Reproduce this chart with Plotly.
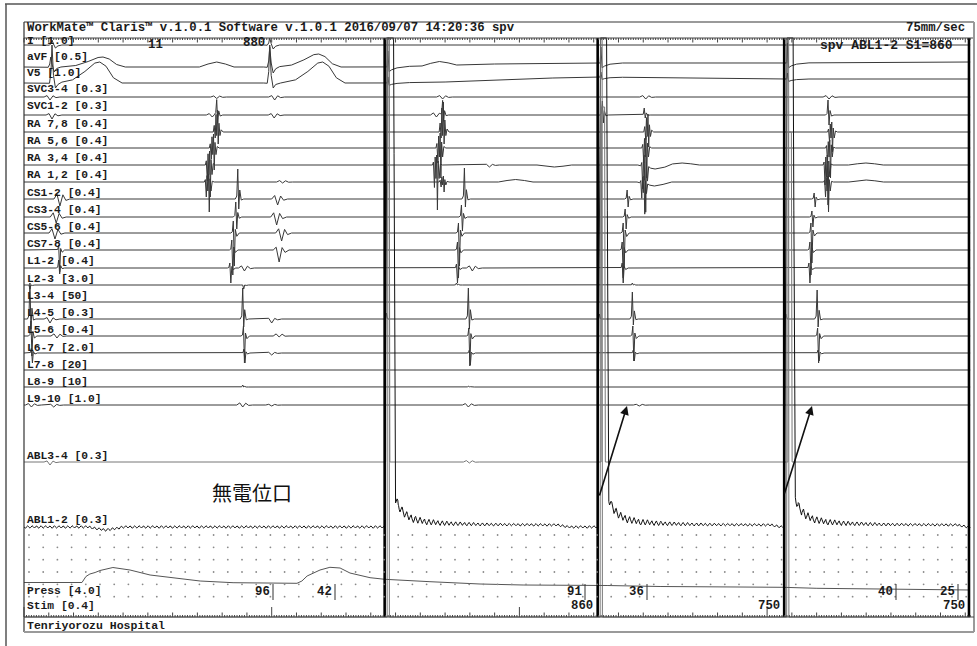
import numpy as np
import plotly.graph_objects as go

# ---------------- values read from the recording ----------------
PX_PER_MS = 0.2477          # 75 mm/sec paper speed on screen
T_END = 3820

ch_names = ["I", "aVF", "V5", "SVC3-4", "SVC1-2", "RA 7,8", "RA 5,6", "RA 3,4", "RA 1,2",
            "CS1-2", "CS3-4", "CS5-6", "CS7-8", "L1-2", "L2-3", "L3-4", "L4-5", "L5-6",
            "L6-7", "L7-8", "L8-9", "L9-10", "ABL3-4", "ABL1-2", "Press", "Stim"]
ch_gains = ["1.0", "0.5", "1.0", "0.3", "0.3", "0.4", "0.4", "0.4", "0.4", "0.4", "0.4", "0.4",
            "0.4", "0.4", "3.0", "50", "0.3", "0.4", "2.0", "20", "10", "1.0", "0.3", "0.3",
            "4.0", "0.4"]

stim_times = [1456, 2316, 3069, 3815]
stim_cl = ["", "860", "750", "750"]
sinus_qrs = [113, 992]
sinus_cl_label = "880"

# waveform templates: (time offsets ms, normalised deflection)
tpl_sharp = ([-10, -4, 0, 4, 8, 14, 24], [0, 0.1, 1, -1, 0.3, -0.1, 0])
tpl_frac = ([-14, -10, -6, -3, 0, 3, 6, 9, 13, 18, 26], [0, 0.3, -0.5, 0.8, -0.3, 1.0, -1.0, 0.4, -0.3, 0.1, 0])
tpl_far = ([-24, -12, 0, 12, 24, 40], [0, 0.7, -1, 0.6, -0.2, 0])
tpl_hump = ([-70, -35, 0, 35, 70], [0, 0.6, 1, 0.6, 0])
tpl_qrs = ([-24, -10, -4, 0, 6, 14, 24, 40], [0, -0.05, 0.3, 1.0, 0.2, -1.0, -0.3, 0])
tpl_twave = ([-170, -110, -60, -20, 0, 25, 55, 90], [0, 0.15, 0.55, 0.95, 1, 0.8, 0.25, 0])
tpl_art = ([0, 3, 8, 18, 40, 90], [0, 1, -0.8, -0.5, -0.2, 0])
tpl_bigart = ([0, 2, 14, 17, 30], [0, 1, 1, -0.03, 0])
tpl_stim = ([0, 1, 8, 9], [0, 1, 1, 0])
tpl_abl = ([0, 10, 36, 44, 55, 70, 90, 120, 170, 250, 400, 700, 740],
           [0, 489, 489, 28, 22, 16, 11, 7.5, 5, 3.5, 2.5, 2, 0])
TPL = {"sharp": tpl_sharp, "frac": tpl_frac, "far": tpl_far, "hump": tpl_hump, "qrs": tpl_qrs,
       "twave": tpl_twave, "art": tpl_art, "bigart": tpl_bigart, "stim": tpl_stim, "abl": tpl_abl}

# events per channel: (time ms, template, upward px, downward px)
ev_I = [(113, "qrs", 5, 3), (992, "qrs", 7, 4)]
ev_aVF = [(108, "qrs", 10, 5), (319, "twave", 10, 0), (778, "hump", 5, 0), (992, "qrs", 20, 6),
          (1190, "twave", 13, 0), (1677, "hump", 4, 0), (1466, "art", 16, 6),
          (2326, "art", 16, 6), (3079, "art", 20, 6)]
ev_V5 = [(113, "qrs", 38, 5), (306, "twave", 21, 0), (992, "qrs", 38, 5), (1206, "twave", 21, 0),
         (1466, "art", 6, 3), (2326, "art", 5, 3), (3079, "art", 6, 3)]
ev_SVC34 = [(105, "far", 2, 3), (778, "far", 1.5, 1.5), (1012, "far", 2, 3), (1690, "far", 2, 2),
            (2510, "far", 2, 2), (3250, "far", 2, 2)]
ev_SVC12 = [(113, "far", 2, 4), (760, "far", 2, 2), (778, "sharp", 15, 8), (1010, "far", 2, 3),
            (1665, "far", 3, 2), (1690, "sharp", 15, 6), (2335, "sharp", 14, 8),
            (2504, "sharp", 7, 3), (3246, "sharp", 15, 10)]
ev_RA78 = [(778, "frac", 22, 12), (1690, "frac", 30, 12), (2516, "frac", 18, 15), (3258, "frac", 10, 20)]
ev_RA56 = [(762, "frac", 14, 22), (1677, "frac", 15, 30), (2508, "frac", 12, 30), (3250, "frac", 8, 30)]
ev_RA34 = [(746, "frac", 14, 32), (1663, "frac", 10, 45), (1879, "far", 1, 2), (2141, "hump", -2, 0),
           (2504, "frac", 12, 45), (2548, "hump", -4, 0), (2657, "hump", 2, 0),
           (3240, "frac", 10, 40), (3399, "hump", 2, 0)]
ev_RA12 = [(742, "frac", 8, 30), (1044, "far", 2, 1), (1690, "frac", 6, 10), (1985, "hump", 2.5, 0),
           (2500, "frac", 8, 30), (2545, "hump", -4, 0), (3242, "frac", 6, 30), (3400, "hump", 2, 0)]
ev_CS12 = [(145, "far", 7, 7), (863, "sharp", 30, 10), (1024, "far", 5, 6), (1778, "sharp", 31, 8),
           (2435, "sharp", 9, 8), (3190, "sharp", 6, 8)]
ev_CS34 = [(130, "far", 6, 6), (855, "sharp", 15, 12), (1020, "far", 6, 8), (1766, "sharp", 12, 14),
           (2427, "sharp", 8, 12), (3181, "sharp", 6, 10)]
ev_CS56 = [(125, "far", 6, 6), (845, "sharp", 12, 33), (1040, "far", 6, 8), (1754, "sharp", 10, 33),
           (2419, "sharp", 10, 35), (3177, "sharp", 10, 30)]
ev_CS78 = [(140, "sharp", 5, 22), (839, "sharp", 10, 25), (1030, "far", 4, 12), (1750, "sharp", 8, 28),
           (2415, "sharp", 8, 28), (3173, "sharp", 8, 25)]
ev_L12 = [(140, "sharp", 8, 6), (831, "sharp", 5, 15), (890, "far", 3, 3), (1746, "sharp", 4, 15),
          (1810, "far", 3, 3), (2415, "sharp", 5, 15), (3169, "sharp", 5, 15)]
ev_L23 = [(20, "sharp", 0, 4), (883, "sharp", 0, 4), (1746, "sharp", 2, 0), (2456, "sharp", 2, 0)]
ev_L34 = []
ev_L45 = [(24, "sharp", 36, 10), (105, "far", 2, 4), (883, "sharp", 31, 8), (1000, "far", 1, 4),
          (1794, "sharp", 31, 10), (2456, "sharp", 27, 6), (3202, "sharp", 29, 8),
          (1460, "art", 6, 0), (2320, "art", 5, 0), (3073, "art", 5, 0)]
ev_L56 = [(28, "sharp", 15, 20), (133, "far", 3, 2), (886, "sharp", 10, 27), (1030, "far", 3, 1),
          (1796, "sharp", 8, 30), (2458, "sharp", 10, 25), (3204, "sharp", 8, 27)]
ev_L67 = [(30, "sharp", 5, 10), (888, "sharp", 4, 10), (1000, "far", 1, 2), (1798, "sharp", 3, 12),
          (2460, "sharp", 3, 8), (3206, "sharp", 3, 8)]
ev_L78 = []
ev_L89 = [(883, "sharp", 2, 0), (1794, "sharp", 1, 0)]
ev_L910 = [(30, "far", 2, 2), (120, "far", 1, 2), (883, "far", 3, 2), (1000, "far", 1, 1),
           (1794, "far", 2, 2), (2484, "far", 1, 1)]
ev_ABL34 = [(105, "far", 1.5, 3), (1798, "far", 2, 1), (1460, "bigart", 424, 0),
            (2330, "bigart", 355, 0), (3084, "bigart", 330, 0)]
ev_ABL12 = [(330, "hump", -3, 0), (1456, "abl", 1, 0), (2316, "abl", 1, 0), (3069, "abl", 1, 0)]
ev_Stim = [(1466, "stim", 579, 0), (2326, "stim", 579, 0), (3079, "stim", 579, 0), (3822, "stim", 579, 0)]

# slow baseline wander of the ECG leads (ms, upward px)
drift_aVF_t = [0, 1456, 1900, 2300, 3069, 3815]
drift_aVF_v = [0, 0, 3, 4, 4, 5]
drift_V5_t = [0, 1456, 1700, 2135, 2316, 3069, 3815]
drift_V5_v = [0, 0, 1, 5, 6, 4, 4]

# ablation-catheter ripple (px, one value every 3 ms)
abl_ripple = [0.0, 1.1, 1.5, 0.3, -1.0, -1.5, -0.4, 0.8, 1.4, 0.5, -0.8, -1.6, -0.7, 0.6, 1.2, 0.2, -1.1, -1.3]

# pressure trace (ms, screen px)
press_t = [0, 234, 250, 266, 287, 307, 359, 428, 509, 602, 711, 844, 953, 1102, 1122, 1143, 1195,
           1235, 1276, 1316, 1397, 1457, 1639, 1841, 2015, 2313, 2354, 2568, 2729, 3064, 3201, 3468, 3819]
press_y = [582.5, 582.5, 576.5, 574, 572.5, 570.5, 567.5, 570, 575, 578, 581, 582.7, 583, 583.3, 581,
           576, 570, 567.3, 568, 573, 577.7, 579.3, 581.7, 584, 585, 585.2, 585.5, 586.5, 586.7,
           587.3, 588.3, 589.3, 590]

# measurement read-outs on the pressure row
meas_vals = ["96", "42", "91", "36", "40", "25"]
meas_x_px = [273, 335, 585, 647, 896, 958]

# ---------------- layout (screen positions) ----------------
ch_base = [45, 67, 83, 97, 115, 132, 148, 165, 182, 199, 217, 233, 250, 268, 285, 302, 319, 336,
           353, 370, 387, 405, 462, 527, None, 617]
ch_label_y = [41, 57, 73, 89, 106, 124, 141, 158, 175, 193, 210, 227, 244, 261, 279, 296, 313, 330,
              348, 365, 382, 399, 456, 520, 591, 606]
ch_events = [ev_I, ev_aVF, ev_V5, ev_SVC34, ev_SVC12, ev_RA78, ev_RA56, ev_RA34, ev_RA12, ev_CS12,
             ev_CS34, ev_CS56, ev_CS78, ev_L12, ev_L23, ev_L34, ev_L45, ev_L56, ev_L67, ev_L78,
             ev_L89, ev_L910, ev_ABL34, ev_ABL12, None, ev_Stim]


def px2t(x):
    return (x - 24) / PX_PER_MS


def build(base, events, dense=None, drift=None):
    ts = [0, T_END]
    for (t, name, up, dn) in events:
        ts.extend(list(t + np.array(TPL[name][0], float)))
    if dense is not None:
        ts.extend(list(dense))
    if drift is not None:
        ts.extend(drift[0])
    ts = np.unique(np.clip(np.array(ts, float), 0, T_END))
    y = np.full(ts.shape, float(base))
    for (t, name, up, dn) in events:
        dt, v = TPL[name]
        v = np.array(v, float)
        sv = np.where(v > 0, v * up, v * dn)
        y -= np.interp(ts, t + np.array(dt, float), sv, left=0, right=0)
    if drift is not None:
        y -= np.interp(ts, drift[0], drift[1])
    return ts, y


fig = go.Figure()
LINE = "#383838"

for i, name in enumerate(ch_names):
    evs = ch_events[i]
    if evs is None:
        continue
    if name == "ABL1-2":
        grid = np.arange(0, T_END, 3.0)
        ts, y = build(ch_base[i], evs, dense=grid)
        rip = np.array(abl_ripple)[(np.round(ts / 3).astype(int)) % len(abl_ripple)]
        env = np.full(ts.shape, 0.8)
        for s in stim_times[:3]:
            env += np.interp(ts, [s + 40, s + 60, s + 150, s + 300, s + 500], [2.6, 2.0, 1.2, 0.4, 0],
                             left=0, right=0)
        inart = np.zeros(ts.shape, bool)
        for s in stim_times[:3]:
            inart |= (ts > s) & (ts < s + 42)
        y = np.where(inart, y, y + rip * env)
        fig.add_trace(go.Scatter(x=ts, y=y, mode="lines", line=dict(color="#111", width=1),
                                 hoverinfo="skip", showlegend=False))
        continue
    drift = None
    if name == "aVF":
        drift = (drift_aVF_t, drift_aVF_v)
    if name == "V5":
        drift = (drift_V5_t, drift_V5_v)
    ts, y = build(ch_base[i], evs, drift=drift)
    col = "#777" if name in ("Stim", "ABL3-4") else LINE
    fig.add_trace(go.Scatter(x=ts, y=y, mode="lines", line=dict(color=col, width=1),
                             hoverinfo="skip", showlegend=False))

# pressure
fig.add_trace(go.Scatter(x=press_t, y=press_y, mode="lines", line=dict(color="#555", width=1),
                         hoverinfo="skip", showlegend=False))

# pacing markers
mx, my = [], []
for s in stim_times:
    mx += [s, s, None]
    my += [38, 617, None]
fig.add_trace(go.Scatter(x=mx, y=my, mode="lines", line=dict(color="black", width=2.6),
                         hoverinfo="skip", showlegend=False))

# rulers
rx, ry = [], []
for t in range(0, T_END + 1, 10):
    L = 4.5 if t % 100 == 0 else 2
    rx += [t, t, None]
    ry += [38, 38 + L, None]
    Lb = 10 if t % 1000 == 0 else (4.5 if t % 100 == 0 else 2)
    rx += [t, t, None]
    ry += [617, 617 - Lb, None]
fig.add_trace(go.Scatter(x=rx, y=ry, mode="lines", line=dict(color="#444", width=1),
                         hoverinfo="skip", showlegend=False))

# dotted grid
gx, gy = [], []
for yy in [535, 547.3, 559.7, 572, 584.3, 596.7]:
    for xx in np.arange(29, 968, 14.2):
        gx.append(px2t(xx))
        gy.append(yy)
fig.add_trace(go.Scatter(x=gx, y=gy, mode="markers", marker=dict(color="#8a8a8a", size=1.8),
                         hoverinfo="skip", showlegend=False))

# measurement ticks
tx, ty = [], []
for xx in meas_x_px:
    tx += [px2t(xx), px2t(xx), None]
    ty += [584, 600, None]
fig.add_trace(go.Scatter(x=tx, y=ty, mode="lines", line=dict(color="#333", width=1),
                         hoverinfo="skip", showlegend=False))

MONO = "Liberation Mono"
ann = []


def txt(x_px, y_px, s, size=11.3, anchor="left", family=MONO, bold=True, color="#1a1a1a"):
    ann.append(dict(x=px2t(x_px), y=y_px, xref="x", yref="y", text=("<b>%s</b>" % s) if bold else s,
                    showarrow=False, xanchor=anchor, yanchor="middle",
                    font=dict(family=family, size=size, color=color)))


for i, name in enumerate(ch_names):
    txt(25, ch_label_y[i], "%s [%s]" % (name, ch_gains[i]))

txt(25, 28, "WorkMate™ Claris™ v.1.0.1 Software v.1.0.1 2016/09/07 14:20:36 spv", size=12.3)
txt(967, 28, "75mm/sec", size=12.3, anchor="right")
txt(818, 45, "spv ABL1-2 S1=860", size=13)
txt(155, 45, "11", size=12.3, anchor="center")
ann.append(dict(x=sinus_qrs[1] - 10, y=43, xref="x", yref="y", text="<b>%s</b>" % sinus_cl_label,
                showarrow=False, xanchor="right", yanchor="middle",
                font=dict(family=MONO, size=12.3, color="#1a1a1a")))
for v, xx in zip(meas_vals, meas_x_px):
    txt(xx - 1.5, 592, v, size=12.3, anchor="right")
for s, lab in zip(stim_times, stim_cl):
    if lab:
        ann.append(dict(x=s - 10, y=606, xref="x", yref="y", text="<b>%s</b>" % lab, showarrow=False,
                        xanchor="right", yanchor="middle",
                        font=dict(family=MONO, size=12.3, color="#1a1a1a")))
txt(25, 625, "Tenriyorozu Hospital", size=11.5)
txt(210, 492, "無電位口", size=20, family="Noto Sans CJK JP", bold=False, color="#111")

for (hx, hy, tx_, ty_) in [(627, 406, 599, 497), (812, 406, 784, 495)]:
    ann.append(dict(x=px2t(hx), y=hy, ax=px2t(tx_), ay=ty_, xref="x", yref="y", axref="x", ayref="y",
                    text="", showarrow=True, arrowhead=2, arrowsize=1.1, arrowwidth=1.6,
                    arrowcolor="#111"))

shapes = []


def hline(x0, x1, y, color, w):
    shapes.append(dict(type="line", x0=px2t(x0), x1=px2t(x1), y0=y, y1=y, xref="x", yref="y",
                       line=dict(color=color, width=w)))


def vline(x, y0, y1, color, w):
    shapes.append(dict(type="line", x0=px2t(x), x1=px2t(x), y0=y0, y1=y1, xref="x", yref="y",
                       line=dict(color=color, width=w)))


hline(5, 977, 4, "#555", 1.5)
vline(6, 4, 646, "#555", 1.5)
hline(24, 974, 22, "#9a9a9a", 2)
hline(24, 974, 38, "#444", 1)
vline(24, 22, 632, "#333", 1.2)
vline(974, 22, 632, "#9a9a9a", 2)
hline(24, 974, 617, "#444", 1)
hline(24, 974, 632, "#9a9a9a", 2)

fig.update_layout(
    width=977, height=646, margin=dict(l=0, r=0, t=0, b=0),
    paper_bgcolor="white", plot_bgcolor="white",
    xaxis=dict(range=[px2t(0), px2t(977)], visible=False, fixedrange=True),
    yaxis=dict(range=[646, 0], visible=False, fixedrange=True),
    annotations=ann, shapes=shapes, showlegend=False,
)
fig.write_html("out.html", config={"displayModeBar": False},
               post_script="document.body.style.margin='0';document.body.style.overflow='hidden';")
